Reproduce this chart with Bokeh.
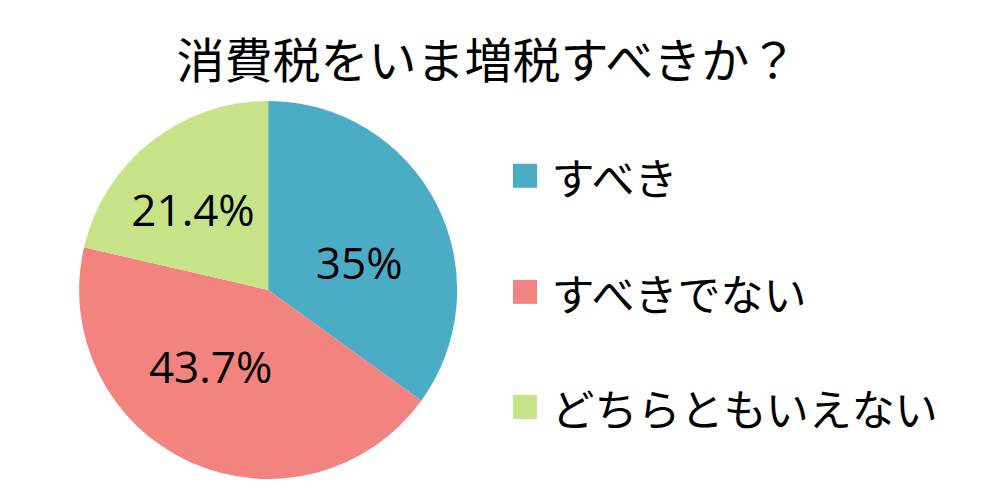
import math
from bokeh.plotting import figure
from bokeh.models import Range1d
from bokeh.core.properties import value
from bokeh.embed import file_html
from bokeh.resources import INLINE

# data
title = "消費税をいま増税すべきか？"
answers = ["すべき", "すべきでない", "どちらともいえない"]
shares = [35.0, 43.7, 21.4]
share_labels = ["35%", "43.7%", "21.4%"]
colors = ["#4BACC6", "#F2837E", "#C6E487"]

JP = "Noto Sans CJK JP"

# whole 1002x500 picture squeezed into the 986x484 figure; y = 500 - picture y
p = figure(width=986, height=484, output_backend="svg", toolbar_location=None,
           x_range=Range1d(0, 1002), y_range=Range1d(0, 500), min_border=0)
p.axis.visible = False
p.grid.visible = False
p.outline_line_color = None
p.background_fill_color = "white"

cx, cy, r = 272, 201, 189

# wedges, starting at 12 o'clock, clockwise
total = sum(shares)
starts, ends, mids = [], [], []
a = math.pi / 2
for s in shares:
    sweep = 2 * math.pi * s / total
    starts.append(a)
    ends.append(a - sweep)
    mids.append(a - sweep / 2)
    a -= sweep

p.wedge(x=[cx] * 3, y=[cy] * 3, radius=r, radius_units="screen",
        start_angle=ends, end_angle=starts, fill_color=colors,
        line_color=None)

# percent labels at mid-angle, with small nudges like Excel does
lab_r = 105
nudge = [(-1, -19), (-15, 17), (-11, 1)]
lx = [cx + lab_r * math.cos(m) + d[0] for m, d in zip(mids, nudge)]
ly = [cy + lab_r * math.sin(m) + d[1] for m, d in zip(mids, nudge)]
p.text(x=lx, y=ly, text=share_labels, text_align="center",
       text_baseline="middle", text_font=value("Open Sans"),
       text_font_size="44px", text_color="black")

# title
p.text(x=[496], y=[500 - 58], text=[title], text_align="center",
       text_baseline="middle", text_font=value(JP),
       text_font_size="48px", text_color="black")

# legend
leg_y = [500 - 181, 500 - 301, 500 - 420]
p.rect(x=[533] * 3, y=leg_y, width=24, height=24, width_units="screen",
       height_units="screen", fill_color=colors, line_color=None)
p.text(x=[560] * 3, y=leg_y, text=answers, text_align="left",
       text_baseline="middle", text_font=value(JP),
       text_font_size="43px", text_color="black")

open("out.html", "w").write(file_html(p, INLINE))
